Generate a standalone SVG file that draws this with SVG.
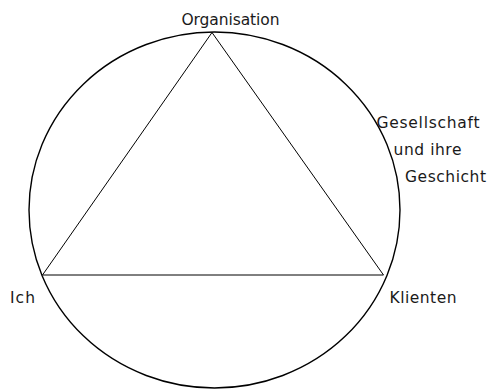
<svg xmlns="http://www.w3.org/2000/svg" width="488" height="389" viewBox="0 0 488 389">
  <style>
    .label { font-family: "DejaVu Sans", Verdana, sans-serif; font-size: 15.5px; fill: #1a1a1a; }
    .edge { fill: none; stroke: #000; stroke-width: 1; }
    .ring { fill: none; stroke: #000; stroke-width: 1.4; }
  </style>
  <rect width="488" height="389" fill="#fff"/>
  <g id="umfeld">
    <ellipse class="ring" cx="214.5" cy="210" rx="185.5" ry="178"/>
  </g>
  <g id="connectors">
    <polygon class="edge" points="212,32.5 42.5,275 383.5,275"/>
  </g>
  <g id="organisation">
    <text class="label" x="181.5" y="25" textLength="98" lengthAdjust="spacing">Organisation</text>
  </g>
  <g id="gesellschaft">
    <text class="label" x="376.5" y="128" textLength="103" lengthAdjust="spacing">Gesellschaft</text>
    <text class="label" x="393.5" y="155" textLength="68" lengthAdjust="spacing">und ihre</text>
    <text class="label" x="405" y="182" textLength="81" lengthAdjust="spacing">Geschicht</text>
  </g>
  <g id="ich">
    <text class="label" x="10" y="303" textLength="25" lengthAdjust="spacing">Ich</text>
  </g>
  <g id="klienten">
    <text class="label" x="389.5" y="303" textLength="67" lengthAdjust="spacing">Klienten</text>
  </g>
</svg>
